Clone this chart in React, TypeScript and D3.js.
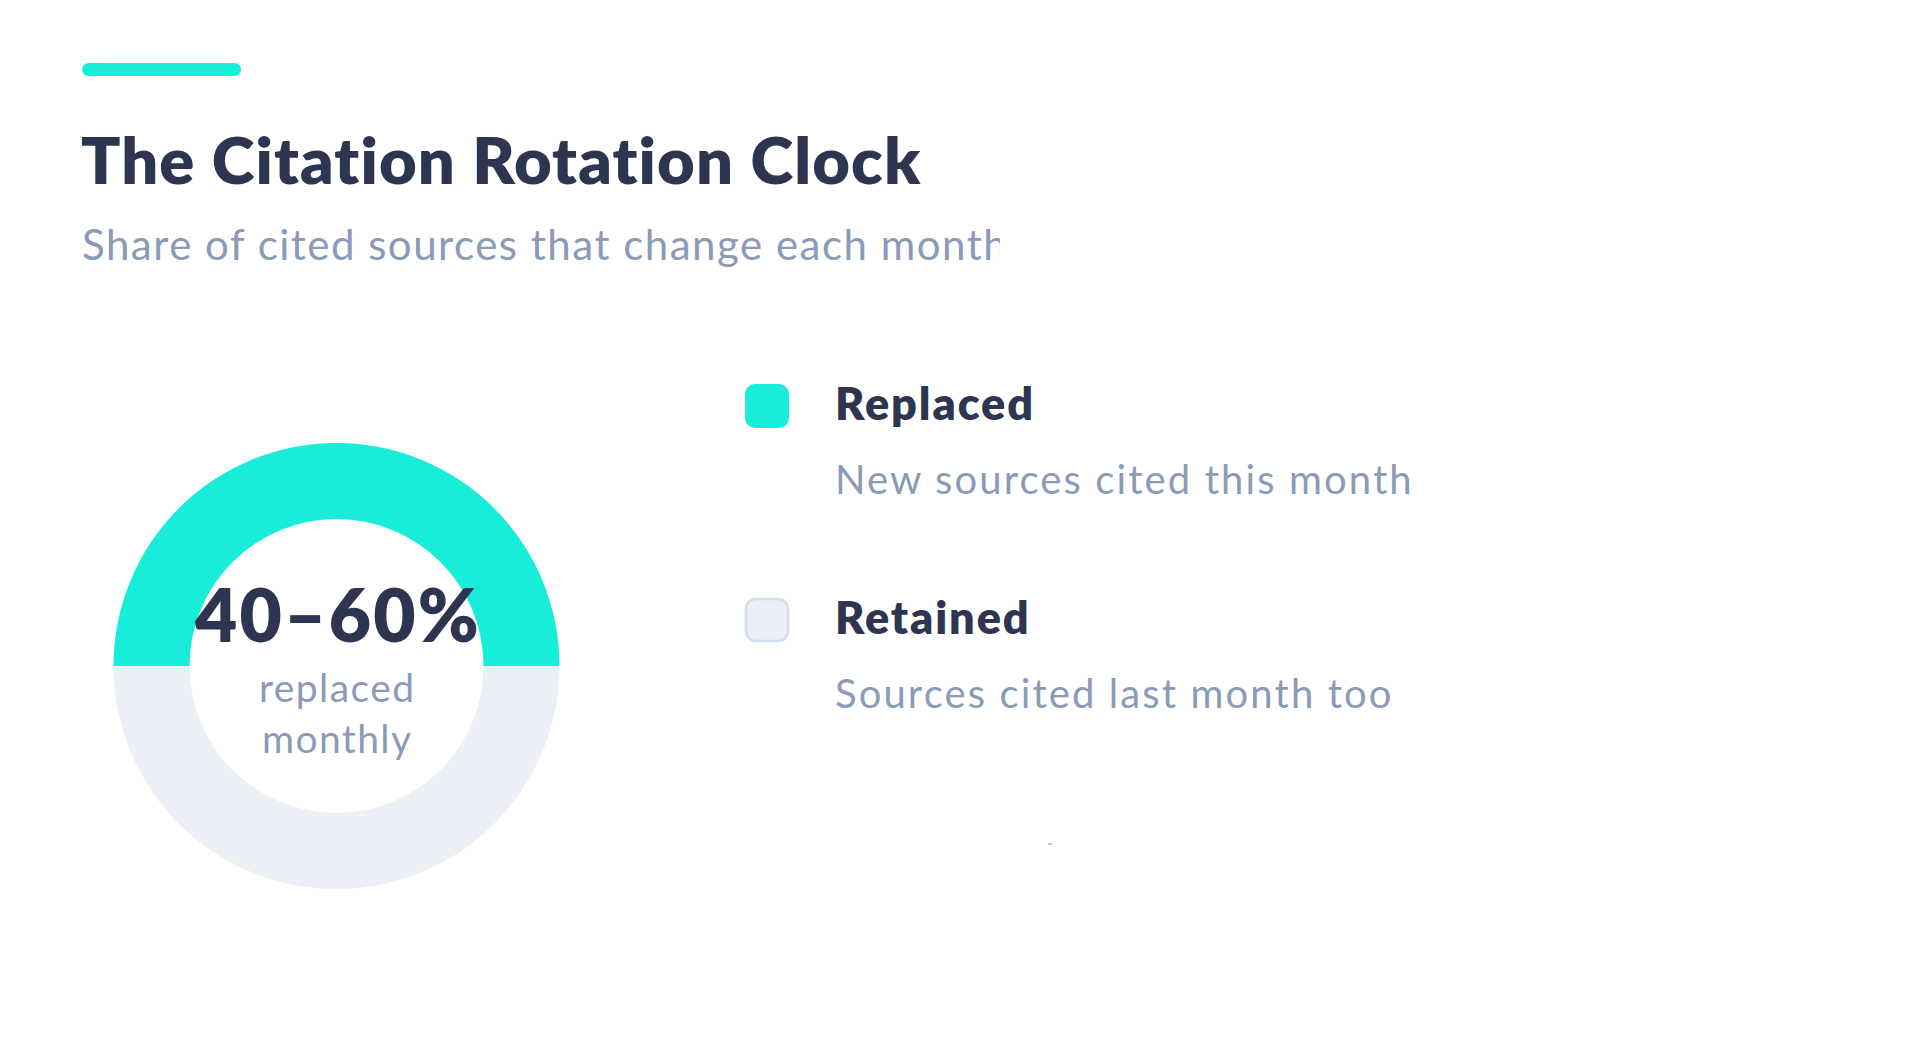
import React from "react";
import * as d3 from "d3";

const segmentLabels = ["Replaced", "Retained"];
const segmentValues = [50, 50];
const segmentDescriptions = ["New sources cited this month", "Sources cited last month too"];
const segmentColors = ["#17EDD9", "#ECEFF6"];
const swatchStrokes = ["none", "#D5DCEA"];
const titleText = "The Citation Rotation Clock";
const subtitleText = "Share of cited sources that change each month";
const centerValue = "40–60%";
const centerLines = ["replaced", "monthly"];

const FONT = "Lato, 'Noto Sans', sans-serif";
const DARK = "#2D3550";
const MUTED = "#8B9AB6";

export default function App() {
  const W = 1912;
  const H = 1056;
  const cx = 336.5;
  const cy = 666;
  const outerR = 223;
  const innerR = 147;

  const data = segmentLabels.map((l, i) => ({ label: l, value: segmentValues[i], color: segmentColors[i] }));
  const pie = d3
    .pie<any>()
    .value((d: any) => d.value)
    .sort(null)
    .startAngle(-Math.PI / 2)
    .endAngle((3 * Math.PI) / 2);
  const arc = d3.arc<any>().innerRadius(innerR).outerRadius(outerR);
  const arcs = pie(data);

  const legendY = d3.scaleBand<string>().domain(segmentLabels).range([384, 384 + 2 * 214]);

  return (
    <svg
      width={W}
      height={H}
      viewBox={`0 0 ${W} ${H}`}
      style={{ position: "absolute", left: 0, top: 0, display: "block", background: "#fff" }}
    >
      <defs>
        <clipPath id="subClip">
          <rect x={0} y={200} width={1000} height={100} />
        </clipPath>
      </defs>
      <rect x={0} y={0} width={W} height={H} fill="#fff" />
      <rect x={82} y={63} width={159} height={13} rx={6.5} fill={segmentColors[0]} />
      <text x={81} y={184} fontFamily={FONT} fontWeight={800} fontSize={65} fill={DARK} style={{ letterSpacing: "1.15px" }}>
        {titleText}
      </text>
      <g clipPath="url(#subClip)">
        <text x={82} y={260} fontFamily={FONT} fontWeight={400} fontSize={42} fill={MUTED} style={{ letterSpacing: "1.5px" }}>
          {subtitleText}
        </text>
      </g>

      <g transform={`translate(${cx},${cy})`}>
        {arcs.map((a, i) => (
          <path key={i} d={arc(a) as string} fill={a.data.color} />
        ))}
        <text x={1.5} y={-24} textAnchor="middle" fontFamily={FONT} fontWeight={800} fontSize={73} fill={DARK} style={{ letterSpacing: "2.2px" }}>
          {centerValue}
        </text>
        {centerLines.map((t, i) => (
          <text key={t} x={0.7} y={36 + i * 51} textAnchor="middle" fontFamily={FONT} fontWeight={400} fontSize={39} fill={MUTED} style={{ letterSpacing: "1.4px" }}>
            {t}
          </text>
        ))}
      </g>

      {segmentLabels.map((l, i) => {
        const y0 = legendY(l) as number;
        return (
          <g key={l} transform={`translate(745,${y0})`}>
            <rect
              x={swatchStrokes[i] === "none" ? 0 : 1}
              y={swatchStrokes[i] === "none" ? 0 : 1}
              width={swatchStrokes[i] === "none" ? 44 : 42}
              height={swatchStrokes[i] === "none" ? 44 : 42}
              rx={10}
              fill={segmentColors[i]}
              stroke={swatchStrokes[i]}
              strokeWidth={2.5}
            />
            <text x={90} y={35.5} fontFamily={FONT} fontWeight={800} fontSize={45} fill={DARK} style={{ letterSpacing: "1.9px" }}>
              {l}
            </text>
            <text x={90} y={109.5} fontFamily={FONT} fontWeight={400} fontSize={40} fill={MUTED} style={{ letterSpacing: "2.1px" }}>
              {segmentDescriptions[i]}
            </text>
          </g>
        );
      })}
      <rect x={1048} y={843} width={4} height={2} fill="#B8C3D6" />
    </svg>
  );
}
